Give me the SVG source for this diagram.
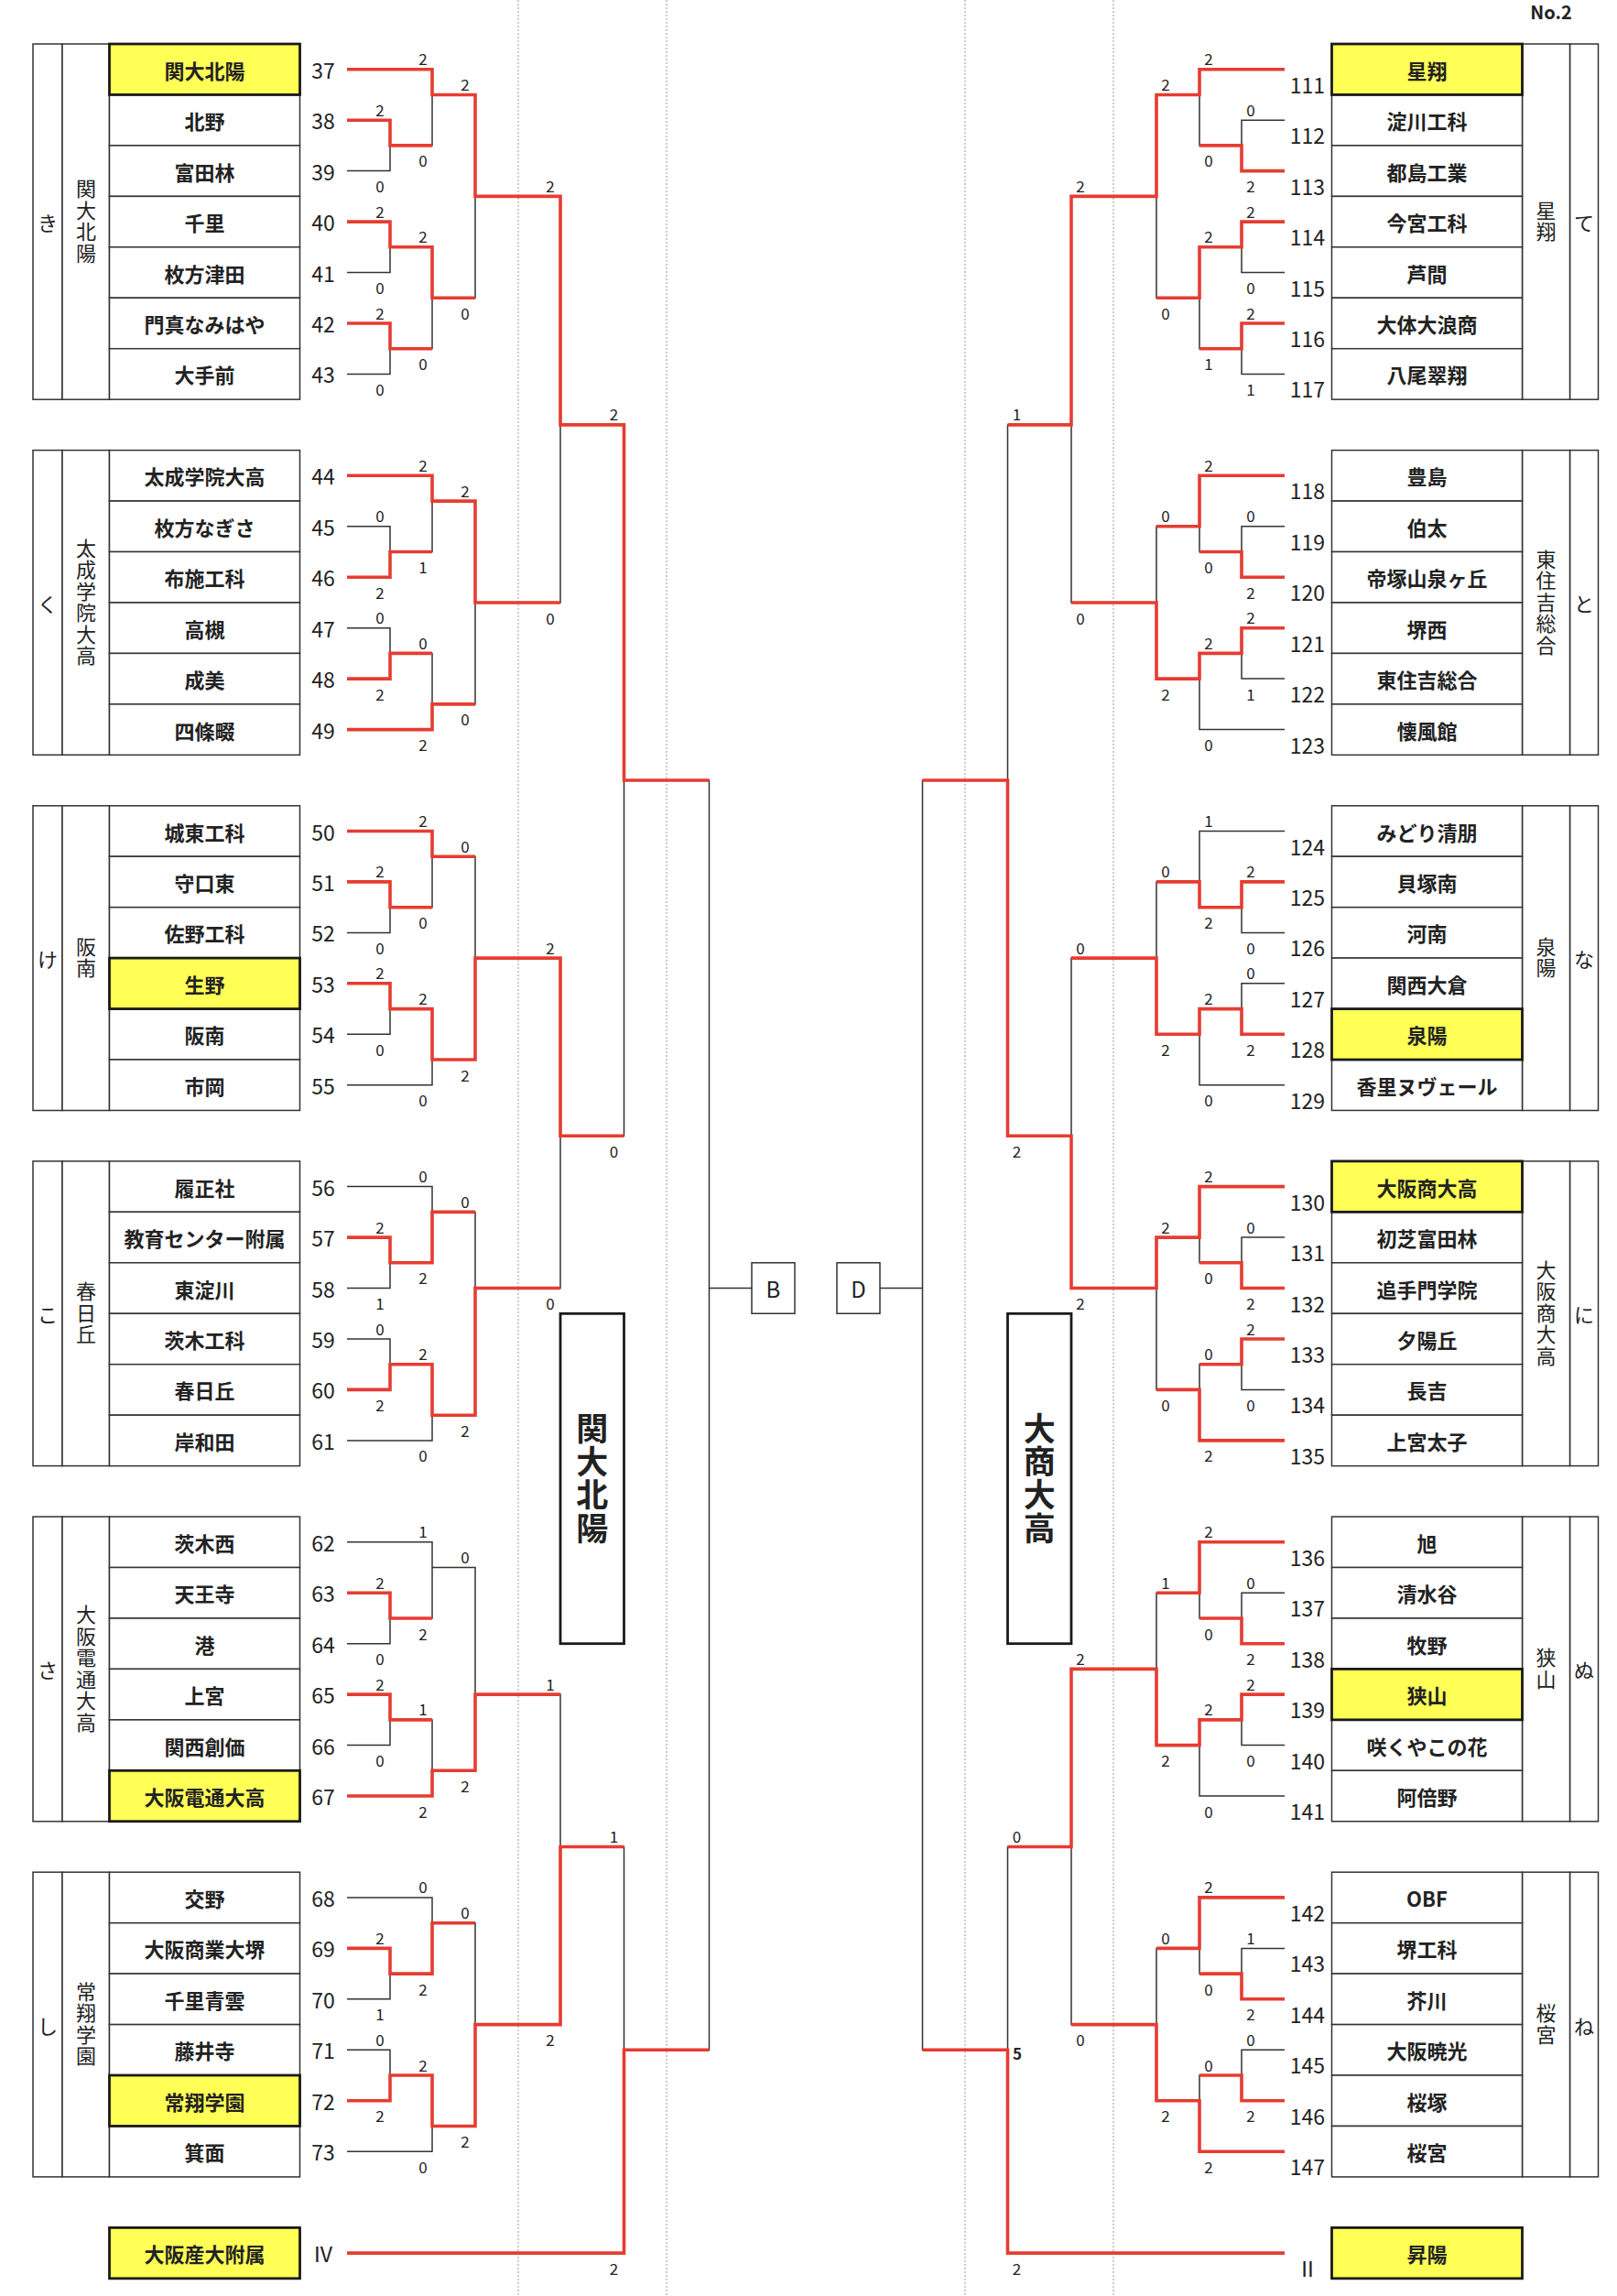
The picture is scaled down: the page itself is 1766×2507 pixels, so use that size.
<svg xmlns="http://www.w3.org/2000/svg" width="1766" height="2507" viewBox="0 0 1766 2507">
<style>
.ln{fill:none;stroke:#333;stroke-width:1.5}
.rd{fill:none;stroke:#e63c32;stroke-width:3.6}
.bx{fill:#fff;stroke:#333;stroke-width:1.5}
.hl{fill:#ffff55;stroke:#1a1a1a;stroke-width:2.8}
.big{fill:#fff;stroke:#1a1a1a;stroke-width:2.8}
.dash{stroke:#9a9a9a;stroke-width:1;stroke-dasharray:2 2}
text{font-family:"Noto Sans CJK JP","Noto Sans",sans-serif;dominant-baseline:central;text-anchor:middle;fill:#222}
.nm{font-size:22px;font-weight:700}
.no{font-size:23px}
.sc{font-size:17px}
.vt{font-size:22px}
.vv{font-size:22px;writing-mode:vertical-rl;letter-spacing:1.5px}
.bt{font-size:35px;font-weight:700;writing-mode:vertical-rl;letter-spacing:1.3px}
.lt{font-size:24px}
</style>
<rect x="0" y="0" width="1766" height="2507" fill="#fff"/>
<g id="guides">
<line class="dash" x1="566" y1="0" x2="566" y2="2507"/>
<line class="dash" x1="728" y1="0" x2="728" y2="2507"/>
<line class="dash" x1="1054" y1="0" x2="1054" y2="2507"/>
<line class="dash" x1="1216" y1="0" x2="1216" y2="2507"/>
</g>
<text x="1694" y="12" style="font-size:20px;font-weight:700">No.2</text>

<g id="left-groups">
<g id="grp-ki"><rect class="bx" x="36" y="48" width="32" height="388.2"/><rect class="bx" x="68" y="48" width="51.5" height="388.2"/><text class="vt" x="52" y="242.1">き</text><text class="vv" x="94" y="242.1">関大北陽</text></g>
<g id="grp-ku"><rect class="bx" x="36" y="491.6" width="32" height="332.7"/><rect class="bx" x="68" y="491.6" width="51.5" height="332.7"/><text class="vt" x="52" y="658">く</text><text class="vv" x="94" y="658">太成学院大高</text></g>
<g id="grp-ke"><rect class="bx" x="36" y="879.8" width="32" height="332.7"/><rect class="bx" x="68" y="879.8" width="51.5" height="332.7"/><text class="vt" x="52" y="1046.1">け</text><text class="vv" x="94" y="1046.1">阪南</text></g>
<g id="grp-ko"><rect class="bx" x="36" y="1267.9" width="32" height="332.7"/><rect class="bx" x="68" y="1267.9" width="51.5" height="332.7"/><text class="vt" x="52" y="1434.3">こ</text><text class="vv" x="94" y="1434.3">春日丘</text></g>
<g id="grp-sa"><rect class="bx" x="36" y="1656.1" width="32" height="332.7"/><rect class="bx" x="68" y="1656.1" width="51.5" height="332.7"/><text class="vt" x="52" y="1822.4">さ</text><text class="vv" x="94" y="1822.4">大阪電通大高</text></g>
<g id="grp-shi"><rect class="bx" x="36" y="2044.2" width="32" height="332.7"/><rect class="bx" x="68" y="2044.2" width="51.5" height="332.7"/><text class="vt" x="52" y="2210.6">し</text><text class="vv" x="94" y="2210.6">常翔学園</text></g>
</g>

<g id="right-groups">
<g id="grp-te"><rect class="bx" x="1714.5" y="48" width="31" height="388.2"/><rect class="bx" x="1662.5" y="48" width="52" height="388.2"/><text class="vt" x="1730" y="242.1">て</text><text class="vv" x="1688.5" y="242.1">星翔</text></g>
<g id="grp-to"><rect class="bx" x="1714.5" y="491.6" width="31" height="332.7"/><rect class="bx" x="1662.5" y="491.6" width="52" height="332.7"/><text class="vt" x="1730" y="658">と</text><text class="vv" x="1688.5" y="658">東住吉総合</text></g>
<g id="grp-na"><rect class="bx" x="1714.5" y="879.8" width="31" height="332.7"/><rect class="bx" x="1662.5" y="879.8" width="52" height="332.7"/><text class="vt" x="1730" y="1046.1">な</text><text class="vv" x="1688.5" y="1046.1">泉陽</text></g>
<g id="grp-ni"><rect class="bx" x="1714.5" y="1267.9" width="31" height="332.7"/><rect class="bx" x="1662.5" y="1267.9" width="52" height="332.7"/><text class="vt" x="1730" y="1434.3">に</text><text class="vv" x="1688.5" y="1434.3">大阪商大高</text></g>
<g id="grp-nu"><rect class="bx" x="1714.5" y="1656.1" width="31" height="332.7"/><rect class="bx" x="1662.5" y="1656.1" width="52" height="332.7"/><text class="vt" x="1730" y="1822.4">ぬ</text><text class="vv" x="1688.5" y="1822.4">狭山</text></g>
<g id="grp-ne"><rect class="bx" x="1714.5" y="2044.2" width="31" height="332.7"/><rect class="bx" x="1662.5" y="2044.2" width="52" height="332.7"/><text class="vt" x="1730" y="2210.6">ね</text><text class="vv" x="1688.5" y="2210.6">桜宮</text></g>
</g>

<g id="left-teams">
<g id="t38"><rect class="bx" x="119.5" y="103.5" width="208" height="55.45"/><text class="nm" x="223.5" y="131.2">北野</text><text class="no" x="353" y="131.2">38</text></g>
<g id="t39"><rect class="bx" x="119.5" y="158.9" width="208" height="55.45"/><text class="nm" x="223.5" y="186.6">富田林</text><text class="no" x="353" y="186.6">39</text></g>
<g id="t40"><rect class="bx" x="119.5" y="214.4" width="208" height="55.45"/><text class="nm" x="223.5" y="242.1">千里</text><text class="no" x="353" y="242.1">40</text></g>
<g id="t41"><rect class="bx" x="119.5" y="269.8" width="208" height="55.45"/><text class="nm" x="223.5" y="297.5">枚方津田</text><text class="no" x="353" y="297.5">41</text></g>
<g id="t42"><rect class="bx" x="119.5" y="325.3" width="208" height="55.45"/><text class="nm" x="223.5" y="353">門真なみはや</text><text class="no" x="353" y="353">42</text></g>
<g id="t43"><rect class="bx" x="119.5" y="380.7" width="208" height="55.45"/><text class="nm" x="223.5" y="408.4">大手前</text><text class="no" x="353" y="408.4">43</text></g>
<g id="t44"><rect class="bx" x="119.5" y="491.6" width="208" height="55.45"/><text class="nm" x="223.5" y="519.3">太成学院大高</text><text class="no" x="353" y="519.3">44</text></g>
<g id="t45"><rect class="bx" x="119.5" y="547.1" width="208" height="55.45"/><text class="nm" x="223.5" y="574.8">枚方なぎさ</text><text class="no" x="353" y="574.8">45</text></g>
<g id="t46"><rect class="bx" x="119.5" y="602.5" width="208" height="55.45"/><text class="nm" x="223.5" y="630.2">布施工科</text><text class="no" x="353" y="630.2">46</text></g>
<g id="t47"><rect class="bx" x="119.5" y="658" width="208" height="55.45"/><text class="nm" x="223.5" y="685.7">高槻</text><text class="no" x="353" y="685.7">47</text></g>
<g id="t48"><rect class="bx" x="119.5" y="713.4" width="208" height="55.45"/><text class="nm" x="223.5" y="741.1">成美</text><text class="no" x="353" y="741.1">48</text></g>
<g id="t49"><rect class="bx" x="119.5" y="768.9" width="208" height="55.45"/><text class="nm" x="223.5" y="796.6">四條畷</text><text class="no" x="353" y="796.6">49</text></g>
<g id="t50"><rect class="bx" x="119.5" y="879.8" width="208" height="55.45"/><text class="nm" x="223.5" y="907.5">城東工科</text><text class="no" x="353" y="907.5">50</text></g>
<g id="t51"><rect class="bx" x="119.5" y="935.2" width="208" height="55.45"/><text class="nm" x="223.5" y="962.9">守口東</text><text class="no" x="353" y="962.9">51</text></g>
<g id="t52"><rect class="bx" x="119.5" y="990.7" width="208" height="55.45"/><text class="nm" x="223.5" y="1018.4">佐野工科</text><text class="no" x="353" y="1018.4">52</text></g>
<g id="t54"><rect class="bx" x="119.5" y="1101.6" width="208" height="55.45"/><text class="nm" x="223.5" y="1129.3">阪南</text><text class="no" x="353" y="1129.3">54</text></g>
<g id="t55"><rect class="bx" x="119.5" y="1157" width="208" height="55.45"/><text class="nm" x="223.5" y="1184.7">市岡</text><text class="no" x="353" y="1184.7">55</text></g>
<g id="t56"><rect class="bx" x="119.5" y="1267.9" width="208" height="55.45"/><text class="nm" x="223.5" y="1295.6">履正社</text><text class="no" x="353" y="1295.6">56</text></g>
<g id="t57"><rect class="bx" x="119.5" y="1323.4" width="208" height="55.45"/><text class="nm" x="223.5" y="1351.1">教育センター附属</text><text class="no" x="353" y="1351.1">57</text></g>
<g id="t58"><rect class="bx" x="119.5" y="1378.8" width="208" height="55.45"/><text class="nm" x="223.5" y="1406.5">東淀川</text><text class="no" x="353" y="1406.5">58</text></g>
<g id="t59"><rect class="bx" x="119.5" y="1434.3" width="208" height="55.45"/><text class="nm" x="223.5" y="1462">茨木工科</text><text class="no" x="353" y="1462">59</text></g>
<g id="t60"><rect class="bx" x="119.5" y="1489.7" width="208" height="55.45"/><text class="nm" x="223.5" y="1517.4">春日丘</text><text class="no" x="353" y="1517.4">60</text></g>
<g id="t61"><rect class="bx" x="119.5" y="1545.2" width="208" height="55.45"/><text class="nm" x="223.5" y="1572.9">岸和田</text><text class="no" x="353" y="1572.9">61</text></g>
<g id="t62"><rect class="bx" x="119.5" y="1656.1" width="208" height="55.45"/><text class="nm" x="223.5" y="1683.8">茨木西</text><text class="no" x="353" y="1683.8">62</text></g>
<g id="t63"><rect class="bx" x="119.5" y="1711.5" width="208" height="55.45"/><text class="nm" x="223.5" y="1739.2">天王寺</text><text class="no" x="353" y="1739.2">63</text></g>
<g id="t64"><rect class="bx" x="119.5" y="1767" width="208" height="55.45"/><text class="nm" x="223.5" y="1794.7">港</text><text class="no" x="353" y="1794.7">64</text></g>
<g id="t65"><rect class="bx" x="119.5" y="1822.4" width="208" height="55.45"/><text class="nm" x="223.5" y="1850.1">上宮</text><text class="no" x="353" y="1850.1">65</text></g>
<g id="t66"><rect class="bx" x="119.5" y="1877.9" width="208" height="55.45"/><text class="nm" x="223.5" y="1905.6">関西創価</text><text class="no" x="353" y="1905.6">66</text></g>
<g id="t68"><rect class="bx" x="119.5" y="2044.2" width="208" height="55.45"/><text class="nm" x="223.5" y="2071.9">交野</text><text class="no" x="353" y="2071.9">68</text></g>
<g id="t69"><rect class="bx" x="119.5" y="2099.7" width="208" height="55.45"/><text class="nm" x="223.5" y="2127.4">大阪商業大堺</text><text class="no" x="353" y="2127.4">69</text></g>
<g id="t70"><rect class="bx" x="119.5" y="2155.1" width="208" height="55.45"/><text class="nm" x="223.5" y="2182.8">千里青雲</text><text class="no" x="353" y="2182.8">70</text></g>
<g id="t71"><rect class="bx" x="119.5" y="2210.6" width="208" height="55.45"/><text class="nm" x="223.5" y="2238.3">藤井寺</text><text class="no" x="353" y="2238.3">71</text></g>
<g id="t73"><rect class="bx" x="119.5" y="2321.5" width="208" height="55.45"/><text class="nm" x="223.5" y="2349.2">箕面</text><text class="no" x="353" y="2349.2">73</text></g>
<g id="t37"><rect class="hl" x="119.5" y="48" width="208" height="55.45"/><text class="nm" x="223.5" y="75.7">関大北陽</text><text class="no" x="353" y="75.7">37</text></g>
<g id="t53"><rect class="hl" x="119.5" y="1046.1" width="208" height="55.45"/><text class="nm" x="223.5" y="1073.8">生野</text><text class="no" x="353" y="1073.8">53</text></g>
<g id="t67"><rect class="hl" x="119.5" y="1933.3" width="208" height="55.45"/><text class="nm" x="223.5" y="1961">大阪電通大高</text><text class="no" x="353" y="1961">67</text></g>
<g id="t72"><rect class="hl" x="119.5" y="2266" width="208" height="55.45"/><text class="nm" x="223.5" y="2293.7">常翔学園</text><text class="no" x="353" y="2293.7">72</text></g>
<g id="seed-IV"><rect class="hl" x="119.5" y="2432.4" width="208" height="55.45"/><text class="nm" x="223.5" y="2460.1">大阪産大附属</text><text class="no" x="353" y="2460.1">Ⅳ</text></g>
</g>

<g id="right-teams">
<g id="t112"><rect class="bx" x="1454.5" y="103.5" width="208" height="55.45"/><text class="nm" x="1558.5" y="131.2">淀川工科</text><text class="no" x="1428" y="147.2">112</text></g>
<g id="t113"><rect class="bx" x="1454.5" y="158.9" width="208" height="55.45"/><text class="nm" x="1558.5" y="186.6">都島工業</text><text class="no" x="1428" y="202.6">113</text></g>
<g id="t114"><rect class="bx" x="1454.5" y="214.4" width="208" height="55.45"/><text class="nm" x="1558.5" y="242.1">今宮工科</text><text class="no" x="1428" y="258.1">114</text></g>
<g id="t115"><rect class="bx" x="1454.5" y="269.8" width="208" height="55.45"/><text class="nm" x="1558.5" y="297.5">芦間</text><text class="no" x="1428" y="313.5">115</text></g>
<g id="t116"><rect class="bx" x="1454.5" y="325.3" width="208" height="55.45"/><text class="nm" x="1558.5" y="353">大体大浪商</text><text class="no" x="1428" y="369">116</text></g>
<g id="t117"><rect class="bx" x="1454.5" y="380.7" width="208" height="55.45"/><text class="nm" x="1558.5" y="408.4">八尾翠翔</text><text class="no" x="1428" y="424.4">117</text></g>
<g id="t118"><rect class="bx" x="1454.5" y="491.6" width="208" height="55.45"/><text class="nm" x="1558.5" y="519.3">豊島</text><text class="no" x="1428" y="535.3">118</text></g>
<g id="t119"><rect class="bx" x="1454.5" y="547.1" width="208" height="55.45"/><text class="nm" x="1558.5" y="574.8">伯太</text><text class="no" x="1428" y="590.8">119</text></g>
<g id="t120"><rect class="bx" x="1454.5" y="602.5" width="208" height="55.45"/><text class="nm" x="1558.5" y="630.2">帝塚山泉ヶ丘</text><text class="no" x="1428" y="646.2">120</text></g>
<g id="t121"><rect class="bx" x="1454.5" y="658" width="208" height="55.45"/><text class="nm" x="1558.5" y="685.7">堺西</text><text class="no" x="1428" y="701.7">121</text></g>
<g id="t122"><rect class="bx" x="1454.5" y="713.4" width="208" height="55.45"/><text class="nm" x="1558.5" y="741.1">東住吉総合</text><text class="no" x="1428" y="757.1">122</text></g>
<g id="t123"><rect class="bx" x="1454.5" y="768.9" width="208" height="55.45"/><text class="nm" x="1558.5" y="796.6">懐風館</text><text class="no" x="1428" y="812.6">123</text></g>
<g id="t124"><rect class="bx" x="1454.5" y="879.8" width="208" height="55.45"/><text class="nm" x="1558.5" y="907.5">みどり清朋</text><text class="no" x="1428" y="923.5">124</text></g>
<g id="t125"><rect class="bx" x="1454.5" y="935.2" width="208" height="55.45"/><text class="nm" x="1558.5" y="962.9">貝塚南</text><text class="no" x="1428" y="978.9">125</text></g>
<g id="t126"><rect class="bx" x="1454.5" y="990.7" width="208" height="55.45"/><text class="nm" x="1558.5" y="1018.4">河南</text><text class="no" x="1428" y="1034.4">126</text></g>
<g id="t127"><rect class="bx" x="1454.5" y="1046.1" width="208" height="55.45"/><text class="nm" x="1558.5" y="1073.8">関西大倉</text><text class="no" x="1428" y="1089.8">127</text></g>
<g id="t129"><rect class="bx" x="1454.5" y="1157" width="208" height="55.45"/><text class="nm" x="1558.5" y="1184.7">香里ヌヴェール</text><text class="no" x="1428" y="1200.7">129</text></g>
<g id="t131"><rect class="bx" x="1454.5" y="1323.4" width="208" height="55.45"/><text class="nm" x="1558.5" y="1351.1">初芝富田林</text><text class="no" x="1428" y="1367.1">131</text></g>
<g id="t132"><rect class="bx" x="1454.5" y="1378.8" width="208" height="55.45"/><text class="nm" x="1558.5" y="1406.5">追手門学院</text><text class="no" x="1428" y="1422.5">132</text></g>
<g id="t133"><rect class="bx" x="1454.5" y="1434.3" width="208" height="55.45"/><text class="nm" x="1558.5" y="1462">夕陽丘</text><text class="no" x="1428" y="1478">133</text></g>
<g id="t134"><rect class="bx" x="1454.5" y="1489.7" width="208" height="55.45"/><text class="nm" x="1558.5" y="1517.4">長吉</text><text class="no" x="1428" y="1533.4">134</text></g>
<g id="t135"><rect class="bx" x="1454.5" y="1545.2" width="208" height="55.45"/><text class="nm" x="1558.5" y="1572.9">上宮太子</text><text class="no" x="1428" y="1588.9">135</text></g>
<g id="t136"><rect class="bx" x="1454.5" y="1656.1" width="208" height="55.45"/><text class="nm" x="1558.5" y="1683.8">旭</text><text class="no" x="1428" y="1699.8">136</text></g>
<g id="t137"><rect class="bx" x="1454.5" y="1711.5" width="208" height="55.45"/><text class="nm" x="1558.5" y="1739.2">清水谷</text><text class="no" x="1428" y="1755.2">137</text></g>
<g id="t138"><rect class="bx" x="1454.5" y="1767" width="208" height="55.45"/><text class="nm" x="1558.5" y="1794.7">牧野</text><text class="no" x="1428" y="1810.7">138</text></g>
<g id="t140"><rect class="bx" x="1454.5" y="1877.9" width="208" height="55.45"/><text class="nm" x="1558.5" y="1905.6">咲くやこの花</text><text class="no" x="1428" y="1921.6">140</text></g>
<g id="t141"><rect class="bx" x="1454.5" y="1933.3" width="208" height="55.45"/><text class="nm" x="1558.5" y="1961">阿倍野</text><text class="no" x="1428" y="1977">141</text></g>
<g id="t142"><rect class="bx" x="1454.5" y="2044.2" width="208" height="55.45"/><text class="nm" x="1558.5" y="2071.9">OBF</text><text class="no" x="1428" y="2087.9">142</text></g>
<g id="t143"><rect class="bx" x="1454.5" y="2099.7" width="208" height="55.45"/><text class="nm" x="1558.5" y="2127.4">堺工科</text><text class="no" x="1428" y="2143.4">143</text></g>
<g id="t144"><rect class="bx" x="1454.5" y="2155.1" width="208" height="55.45"/><text class="nm" x="1558.5" y="2182.8">芥川</text><text class="no" x="1428" y="2198.8">144</text></g>
<g id="t145"><rect class="bx" x="1454.5" y="2210.6" width="208" height="55.45"/><text class="nm" x="1558.5" y="2238.3">大阪暁光</text><text class="no" x="1428" y="2254.3">145</text></g>
<g id="t146"><rect class="bx" x="1454.5" y="2266" width="208" height="55.45"/><text class="nm" x="1558.5" y="2293.7">桜塚</text><text class="no" x="1428" y="2309.7">146</text></g>
<g id="t147"><rect class="bx" x="1454.5" y="2321.5" width="208" height="55.45"/><text class="nm" x="1558.5" y="2349.2">桜宮</text><text class="no" x="1428" y="2365.2">147</text></g>
<g id="t111"><rect class="hl" x="1454.5" y="48" width="208" height="55.45"/><text class="nm" x="1558.5" y="75.7">星翔</text><text class="no" x="1428" y="91.7">111</text></g>
<g id="t128"><rect class="hl" x="1454.5" y="1101.6" width="208" height="55.45"/><text class="nm" x="1558.5" y="1129.3">泉陽</text><text class="no" x="1428" y="1145.3">128</text></g>
<g id="t130"><rect class="hl" x="1454.5" y="1267.9" width="208" height="55.45"/><text class="nm" x="1558.5" y="1295.6">大阪商大高</text><text class="no" x="1428" y="1311.6">130</text></g>
<g id="t139"><rect class="hl" x="1454.5" y="1822.4" width="208" height="55.45"/><text class="nm" x="1558.5" y="1850.1">狭山</text><text class="no" x="1428" y="1866.1">139</text></g>
<g id="seed-II"><rect class="hl" x="1454.5" y="2432.4" width="208" height="55.45"/><text class="nm" x="1558.5" y="2460.1">昇陽</text><text class="no" x="1428" y="2476.1">Ⅱ</text></g>
</g>

<g id="center-nodes">
<g id="box-B"><rect class="bx" x="821" y="1378.8" width="47" height="55.45"/><text class="lt" x="844.5" y="1406.5">B</text></g>
<g id="box-D"><rect class="bx" x="914" y="1378.8" width="47" height="55.45"/><text class="lt" x="937.5" y="1406.5">D</text></g>
<g id="winner-left"><rect class="big" x="612" y="1434.3" width="69.5" height="360.4"/><text class="bt" x="646.75" y="1614.5">関大北陽</text></g>
<g id="winner-right"><rect class="big" x="1100.5" y="1434.3" width="69.5" height="360.4"/><text class="bt" x="1135.25" y="1614.5">大商大高</text></g>
</g>

<g id="connectors">
<path class="ln" d="M379 131.2H426V186.6H379M379 75.7H472V158.9H426M379 242.1H426V297.5H379M379 353H426V408.4H379M426 269.8H472V380.7H426M472 103.5H519V325.3H472
M379 574.8H426V630.2H379M379 519.3H472V602.5H426M379 685.7H426V741.1H379M426 713.4H472V796.6H379M472 547.1H519V768.9H472
M379 962.9H426V1018.4H379M379 907.5H472V990.7H426M379 1073.8H426V1129.3H379M426 1101.6H472V1184.7H379M472 935.2H519V1157H472
M379 1351.1H426V1406.5H379M379 1295.6H472V1378.8H426M379 1462H426V1517.4H379M426 1489.7H472V1572.9H379M472 1323.4H519V1545.2H472
M379 1739.2H426V1794.7H379M379 1683.8H472V1767H426M379 1850.1H426V1905.6H379M426 1877.9H472V1961H379M472 1711.5H519V1933.3H472
M379 2127.4H426V2182.8H379M379 2071.9H472V2155.1H426M379 2238.3H426V2293.7H379M426 2266H472V2349.2H379M472 2099.7H519V2321.5H472
M519 214.4H612V658H519M519 1046.1H612V1406.5H519M519 1850.1H612V2210.6H519
M612 463.9H681.5V1240.2H612M612 2016.5H681.5V2460.1H379
M681.5 852H774.5V2238.3H681.5M774.5 1406.5H821"/>
<path class="ln" d="M1403 131.2H1356V186.6H1403M1403 75.7H1310V158.9H1356M1403 242.1H1356V297.5H1403M1403 353H1356V408.4H1403M1356 269.8H1310V380.7H1356M1310 103.5H1263V325.3H1310
M1403 574.8H1356V630.2H1403M1403 519.3H1310V602.5H1356M1403 685.7H1356V741.1H1403M1356 713.4H1310V796.6H1403M1310 574.8H1263V741.1H1310
M1403 962.9H1356V1018.4H1403M1403 907.5H1310V990.7H1356M1403 1073.8H1356V1129.3H1403M1356 1101.6H1310V1184.7H1403M1310 962.9H1263V1129.3H1310
M1403 1351.1H1356V1406.5H1403M1403 1295.6H1310V1378.8H1356M1403 1462H1356V1517.4H1403M1356 1489.7H1310V1572.9H1403M1310 1351.1H1263V1517.4H1310
M1403 1739.2H1356V1794.7H1403M1403 1683.8H1310V1767H1356M1403 1850.1H1356V1905.6H1403M1356 1877.9H1310V1961H1403M1310 1739.2H1263V1905.6H1310
M1403 2127.4H1356V2182.8H1403M1403 2071.9H1310V2155.1H1356M1403 2238.3H1356V2293.7H1403M1356 2266H1310V2349.2H1403M1310 2127.4H1263V2293.7H1310
M1263 214.4H1170V658H1263M1263 1046.1H1170V1406.5H1263M1263 1822.4H1170V2210.6H1263
M1170 463.9H1100.5V1240.2H1170M1170 2016.5H1100.5V2460.1H1403
M1100.5 852H1007.5V2238.3H1100.5M1007.5 1406.5H961"/>
<path class="rd" d="M379 75.7H472V103.5H519V214.4H612V463.9H681.5V852H774.5
M379 131.2H426V158.9H472
M379 242.1H426V269.8H472V325.3H519
M379 353H426V380.7H472
M379 519.3H472V547.1H519V658H612
M379 630.2H426V602.5H472
M379 741.1H426V713.4H472
M379 796.6H472V768.9H519
M379 907.5H472V935.2H519
M379 962.9H426V990.7H472
M379 1073.8H426V1101.6H472V1157H519V1046.1H612V1240.2H681.5
M379 1351.1H426V1378.8H472V1323.4H519
M379 1517.4H426V1489.7H472V1545.2H519V1406.5H612
M379 1739.2H426V1767H472
M379 1850.1H426V1877.9H472
M379 1961H472V1933.3H519V1850.1H612
M379 2127.4H426V2155.1H472V2099.7H519
M379 2293.7H426V2266H472V2321.5H519V2210.6H612V2016.5H681.5
M379 2460.1H681.5V2238.3H774.5"/>
<path class="rd" d="M1403 75.7H1310V103.5H1263V214.4H1170V463.9H1100.5
M1403 186.6H1356V158.9H1310
M1403 242.1H1356V269.8H1310V325.3H1263
M1403 353H1356V380.7H1310
M1403 519.3H1310V574.8H1263
M1403 630.2H1356V602.5H1310
M1403 685.7H1356V713.4H1310V741.1H1263V658H1170
M1403 962.9H1356V990.7H1310V962.9H1263
M1403 1129.3H1356V1101.6H1310V1129.3H1263V1046.1H1170
M1403 1295.6H1310V1351.1H1263V1406.5H1170V1240.2H1100.5V852H1007.5
M1403 1406.5H1356V1378.8H1310
M1403 1462H1356V1489.7H1310
M1403 1572.9H1310V1517.4H1263
M1403 1683.8H1310V1739.2H1263
M1403 1794.7H1356V1767H1310
M1403 1850.1H1356V1877.9H1310V1905.6H1263V1822.4H1170V2016.5H1100.5
M1403 2071.9H1310V2127.4H1263
M1403 2182.8H1356V2155.1H1310
M1403 2293.7H1356V2266H1310
M1403 2349.2H1310V2293.7H1263V2210.6H1170
M1403 2460.1H1100.5V2238.3H1007.5"/>
</g>

<g id="scores-left">
<text class="sc" x="415" y="119.2">2</text><text class="sc" x="415" y="202.6">0</text>
<text class="sc" x="462" y="63.7">2</text><text class="sc" x="462" y="174.9">0</text>
<text class="sc" x="415" y="230.1">2</text><text class="sc" x="415" y="313.5">0</text>
<text class="sc" x="415" y="341">2</text><text class="sc" x="415" y="424.4">0</text>
<text class="sc" x="462" y="257.8">2</text><text class="sc" x="462" y="396.7">0</text>
<text class="sc" x="508" y="91.5">2</text><text class="sc" x="508" y="341.3">0</text>
<text class="sc" x="415" y="562.8">0</text><text class="sc" x="415" y="646.2">2</text>
<text class="sc" x="462" y="507.3">2</text><text class="sc" x="462" y="618.5">1</text>
<text class="sc" x="415" y="673.7">0</text><text class="sc" x="415" y="757.1">2</text>
<text class="sc" x="462" y="701.4">0</text><text class="sc" x="462" y="812.6">2</text>
<text class="sc" x="508" y="535.1">2</text><text class="sc" x="508" y="784.9">0</text>
<text class="sc" x="415" y="950.9">2</text><text class="sc" x="415" y="1034.4">0</text>
<text class="sc" x="462" y="895.5">2</text><text class="sc" x="462" y="1006.7">0</text>
<text class="sc" x="415" y="1061.8">2</text><text class="sc" x="415" y="1145.3">0</text>
<text class="sc" x="462" y="1089.6">2</text><text class="sc" x="462" y="1200.7">0</text>
<text class="sc" x="508" y="923.2">0</text><text class="sc" x="508" y="1173">2</text>
<text class="sc" x="415" y="1339.1">2</text><text class="sc" x="415" y="1422.5">1</text>
<text class="sc" x="462" y="1283.6">0</text><text class="sc" x="462" y="1394.8">2</text>
<text class="sc" x="415" y="1450">0</text><text class="sc" x="415" y="1533.4">2</text>
<text class="sc" x="462" y="1477.7">2</text><text class="sc" x="462" y="1588.9">0</text>
<text class="sc" x="508" y="1311.4">0</text><text class="sc" x="508" y="1561.2">2</text>
<text class="sc" x="415" y="1727.2">2</text><text class="sc" x="415" y="1810.7">0</text>
<text class="sc" x="462" y="1671.8">1</text><text class="sc" x="462" y="1783">2</text>
<text class="sc" x="415" y="1838.1">2</text><text class="sc" x="415" y="1921.6">0</text>
<text class="sc" x="462" y="1865.9">1</text><text class="sc" x="462" y="1977">2</text>
<text class="sc" x="508" y="1699.5">0</text><text class="sc" x="508" y="1949.3">2</text>
<text class="sc" x="415" y="2115.4">2</text><text class="sc" x="415" y="2198.8">1</text>
<text class="sc" x="462" y="2059.9">0</text><text class="sc" x="462" y="2171.1">2</text>
<text class="sc" x="415" y="2226.3">0</text><text class="sc" x="415" y="2309.7">2</text>
<text class="sc" x="462" y="2254">2</text><text class="sc" x="462" y="2365.2">0</text>
<text class="sc" x="508" y="2087.7">0</text><text class="sc" x="508" y="2337.5">2</text>
<text class="sc" x="601" y="202.4">2</text><text class="sc" x="601" y="674">0</text>
<text class="sc" x="601" y="1034.1">2</text><text class="sc" x="601" y="1422.5">0</text>
<text class="sc" x="601" y="1838.1">1</text><text class="sc" x="601" y="2226.6">2</text>
<text class="sc" x="670.5" y="451.9">2</text><text class="sc" x="670.5" y="1256.2">0</text>
<text class="sc" x="670.5" y="2004.5">1</text><text class="sc" x="670.5" y="2476.1">2</text>
</g>

<g id="scores-right">
<text class="sc" x="1366" y="119.2">0</text><text class="sc" x="1366" y="202.6">2</text>
<text class="sc" x="1320" y="63.7">2</text><text class="sc" x="1320" y="174.9">0</text>
<text class="sc" x="1366" y="230.1">2</text><text class="sc" x="1366" y="313.5">0</text>
<text class="sc" x="1366" y="341">2</text><text class="sc" x="1366" y="424.4">1</text>
<text class="sc" x="1320" y="257.8">2</text><text class="sc" x="1320" y="396.7">1</text>
<text class="sc" x="1273" y="91.5">2</text><text class="sc" x="1273" y="341.3">0</text>
<text class="sc" x="1366" y="562.8">0</text><text class="sc" x="1366" y="646.2">2</text>
<text class="sc" x="1320" y="507.3">2</text><text class="sc" x="1320" y="618.5">0</text>
<text class="sc" x="1366" y="673.7">2</text><text class="sc" x="1366" y="757.1">1</text>
<text class="sc" x="1320" y="701.4">2</text><text class="sc" x="1320" y="812.6">0</text>
<text class="sc" x="1273" y="562.8">0</text><text class="sc" x="1273" y="757.1">2</text>
<text class="sc" x="1366" y="950.9">2</text><text class="sc" x="1366" y="1034.4">0</text>
<text class="sc" x="1320" y="895.5">1</text><text class="sc" x="1320" y="1006.7">2</text>
<text class="sc" x="1366" y="1061.8">0</text><text class="sc" x="1366" y="1145.3">2</text>
<text class="sc" x="1320" y="1089.6">2</text><text class="sc" x="1320" y="1200.7">0</text>
<text class="sc" x="1273" y="950.9">0</text><text class="sc" x="1273" y="1145.3">2</text>
<text class="sc" x="1366" y="1339.1">0</text><text class="sc" x="1366" y="1422.5">2</text>
<text class="sc" x="1320" y="1283.6">2</text><text class="sc" x="1320" y="1394.8">0</text>
<text class="sc" x="1366" y="1450">2</text><text class="sc" x="1366" y="1533.4">0</text>
<text class="sc" x="1320" y="1477.7">0</text><text class="sc" x="1320" y="1588.9">2</text>
<text class="sc" x="1273" y="1339.1">2</text><text class="sc" x="1273" y="1533.4">0</text>
<text class="sc" x="1366" y="1727.2">0</text><text class="sc" x="1366" y="1810.7">2</text>
<text class="sc" x="1320" y="1671.8">2</text><text class="sc" x="1320" y="1783">0</text>
<text class="sc" x="1366" y="1838.1">2</text><text class="sc" x="1366" y="1921.6">0</text>
<text class="sc" x="1320" y="1865.9">2</text><text class="sc" x="1320" y="1977">0</text>
<text class="sc" x="1273" y="1727.2">1</text><text class="sc" x="1273" y="1921.6">2</text>
<text class="sc" x="1366" y="2115.4">1</text><text class="sc" x="1366" y="2198.8">2</text>
<text class="sc" x="1320" y="2059.9">2</text><text class="sc" x="1320" y="2171.1">0</text>
<text class="sc" x="1366" y="2226.3">0</text><text class="sc" x="1366" y="2309.7">2</text>
<text class="sc" x="1320" y="2254">0</text><text class="sc" x="1320" y="2365.2">2</text>
<text class="sc" x="1273" y="2115.4">0</text><text class="sc" x="1273" y="2309.7">2</text>
<text class="sc" x="1180" y="202.4">2</text><text class="sc" x="1180" y="674">0</text>
<text class="sc" x="1180" y="1034.1">0</text><text class="sc" x="1180" y="1422.5">2</text>
<text class="sc" x="1180" y="1810.4">2</text><text class="sc" x="1180" y="2226.6">0</text>
<text class="sc" x="1110.5" y="451.9">1</text><text class="sc" x="1110.5" y="1256.2">2</text>
<text class="sc" x="1110.5" y="2004.5">0</text><text class="sc" x="1110.5" y="2476.1">2</text>
<text class="sc" x="1111" y="2241" style="font-weight:700">5</text>
</g>
</svg>
